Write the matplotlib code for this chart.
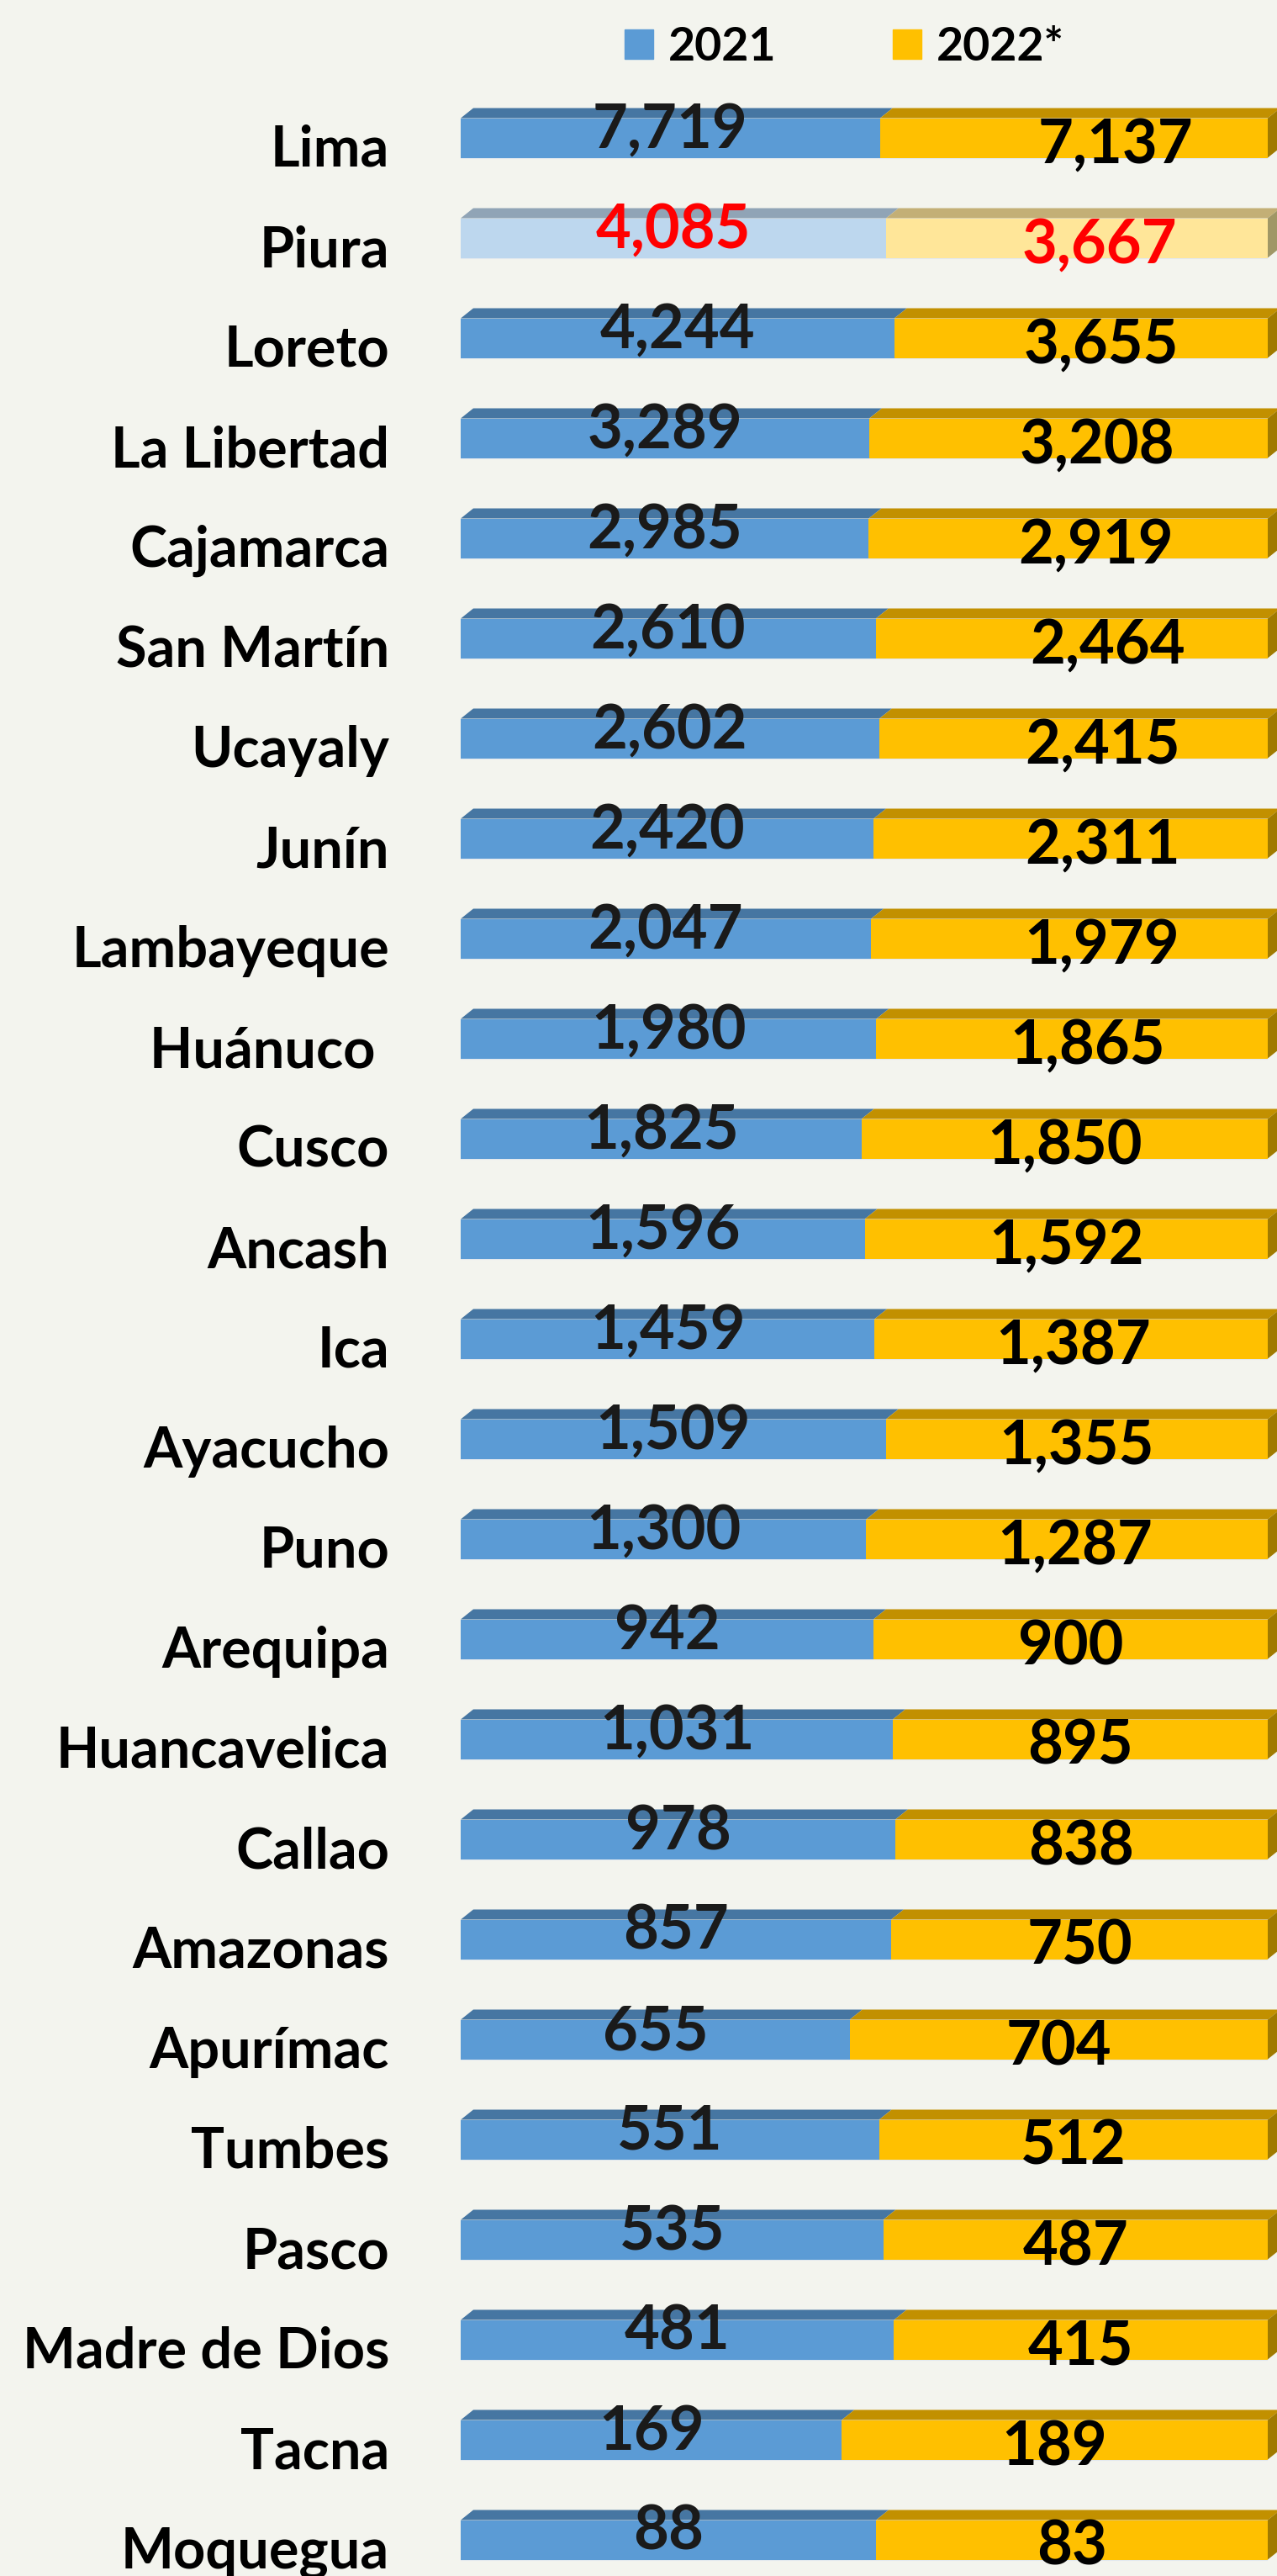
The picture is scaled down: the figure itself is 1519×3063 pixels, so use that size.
import matplotlib
matplotlib.use("Agg")
import matplotlib.pyplot as plt
from matplotlib.patches import Polygon, Patch
from matplotlib.transforms import ScaledTranslation

# ---------------- data ----------------
regions = ['Lima', 'Piura', 'Loreto', 'La Libertad', 'Cajamarca', 'San Martín',
           'Ucayaly', 'Junín', 'Lambayeque', 'Huánuco ', 'Cusco', 'Ancash', 'Ica',
           'Ayacucho', 'Puno', 'Arequipa', 'Huancavelica', 'Callao', 'Amazonas',
           'Apurímac', 'Tumbes', 'Pasco', 'Madre de Dios', 'Tacna', 'Moquegua']
v2021 = [7719, 4085, 4244, 3289, 2985, 2610, 2602, 2420, 2047, 1980, 1825, 1596,
         1459, 1509, 1300, 942, 1031, 978, 857, 655, 551, 535, 481, 169, 88]
v2022 = [7137, 3667, 3655, 3208, 2919, 2464, 2415, 2311, 1979, 1865, 1850, 1592,
         1387, 1355, 1287, 900, 895, 838, 750, 704, 512, 487, 415, 189, 83]
series_names = ['2021', '2022*']
highlight = ['Piura']

# label nudges (pixels) for the 2022* value labels, as placed in the original
label_nudge_px = [50, 27, 24, 34, 33, 43, 35, 38, 39, 18, 0, 0, 3, 0, 9,
                  0, 0, 0, 0, 0, 0, 0, 0, 0, 0]

# ---------------- style ----------------
plt.rcParams['font.family'] = ['Lato', 'DejaVu Sans']
BG = '#F3F4EE'
BLUE, BLUE_TOP = '#5B9BD5', '#4676A2'
YEL, YEL_TOP, YEL_SIDE = '#FFC000', '#C29000', '#A07A00'
LBLUE, LBLUE_TOP = '#BDD7EE', '#90A4B6'
LYEL, LYEL_TOP, LYEL_SIDE = '#FFE699', '#C3AF76', '#A09766'

W, H, DPI = 1519, 3063, 100
left_px, right_px = 548, 1508
row0_px, pitch_px = 164, 119
bar_px, dx_px, dy_px = 47, 15, 12

fig = plt.figure(figsize=(W / DPI, H / DPI), dpi=DPI, facecolor=BG)
ax = fig.add_axes([left_px / W, 0, (right_px - left_px) / W, 1])
ax.set_facecolor(BG)
ax.set_xlim(0, 1)
ax.set_ylim((H - row0_px) / pitch_px, -row0_px / pitch_px)

n = len(regions)
ypos = list(range(n))
s1 = [a / (a + b) for a, b in zip(v2021, v2022)]
s2 = [b / (a + b) for a, b in zip(v2021, v2022)]
hl = [r in highlight for r in regions]

h = bar_px / pitch_px
dx = dx_px / (right_px - left_px)
dy = dy_px / pitch_px

c1 = [LBLUE if f else BLUE for f in hl]
c2 = [LYEL if f else YEL for f in hl]
ax.barh(ypos, s1, height=h, color=c1, linewidth=0, zorder=2)
ax.barh(ypos, s2, left=s1, height=h, color=c2, linewidth=0, zorder=2)

for i in range(n):
    yt = i - h / 2
    yb = i + h / 2
    b_top = LBLUE_TOP if hl[i] else BLUE_TOP
    y_top = LYEL_TOP if hl[i] else YEL_TOP
    y_side = LYEL_SIDE if hl[i] else YEL_SIDE
    x0, x1, x2 = 0, s1[i], s1[i] + s2[i]
    ax.add_patch(Polygon([(x0, yt), (x1, yt), (x1 + dx, yt - dy), (x0 + dx, yt - dy)],
                         closed=True, facecolor=b_top, lw=0, zorder=2, clip_on=False))
    ax.add_patch(Polygon([(x1, yt), (x2, yt), (x2 + dx, yt - dy), (x1 + dx, yt - dy)],
                         closed=True, facecolor=y_top, lw=0, zorder=2, clip_on=False))
    ax.add_patch(Polygon([(x2, yt), (x2 + dx, yt - dy), (x2 + dx, yb - dy), (x2, yb)],
                         closed=True, facecolor=y_side, lw=0, zorder=2, clip_on=False))
    # faint light line under each bar
    ax.plot([0, x2], [yb, yb], color='#E2E8EE', lw=1.5, zorder=1.5, solid_capstyle='butt')

    col1 = '#FF0000' if hl[i] else '#1A1A1A'
    col2 = '#FF0000' if hl[i] else '#000000'
    ax.annotate(f"{v2021[i]:,}", xy=(s1[i] / 2, i), xytext=(0, -12 * 0.72),
                textcoords='offset points', ha='center', va='baseline',
                fontsize=52, fontweight='bold', color=col1, zorder=5)
    ax.annotate(f"{v2022[i]:,}", xy=(s1[i] + s2[i] / 2, i),
                xytext=(label_nudge_px[i] * 0.72, -30 * 0.72),
                textcoords='offset points', ha='center', va='baseline',
                fontsize=52, fontweight='bold', color=col2, zorder=5)

ax.set_yticks(ypos)
ax.set_yticklabels(regions, fontsize=48, fontweight='bold', va='baseline', color='black')
ax.tick_params(axis='y', length=0, pad=(left_px - 463) * 0.72)
for lbl in ax.get_yticklabels():
    lbl.set_transform(lbl.get_transform() + ScaledTranslation(0, -34 / DPI, fig.dpi_scale_trans))
ax.set_xticks([])
for sp in ax.spines.values():
    sp.set_visible(False)

handles = [Patch(color=BLUE), Patch(color=YEL)]
fig.legend(handles, series_names, loc='center left', bbox_to_anchor=(743 / W, 1 - 56 / H),
           ncol=2, frameon=False, prop={'size': 40, 'weight': 'bold'},
           handlelength=0.61, handleheight=0.58, handletextpad=0.32, columnspacing=2.5,
           borderpad=0, borderaxespad=0)

fig.savefig('out.png', dpi=DPI, facecolor=BG)
